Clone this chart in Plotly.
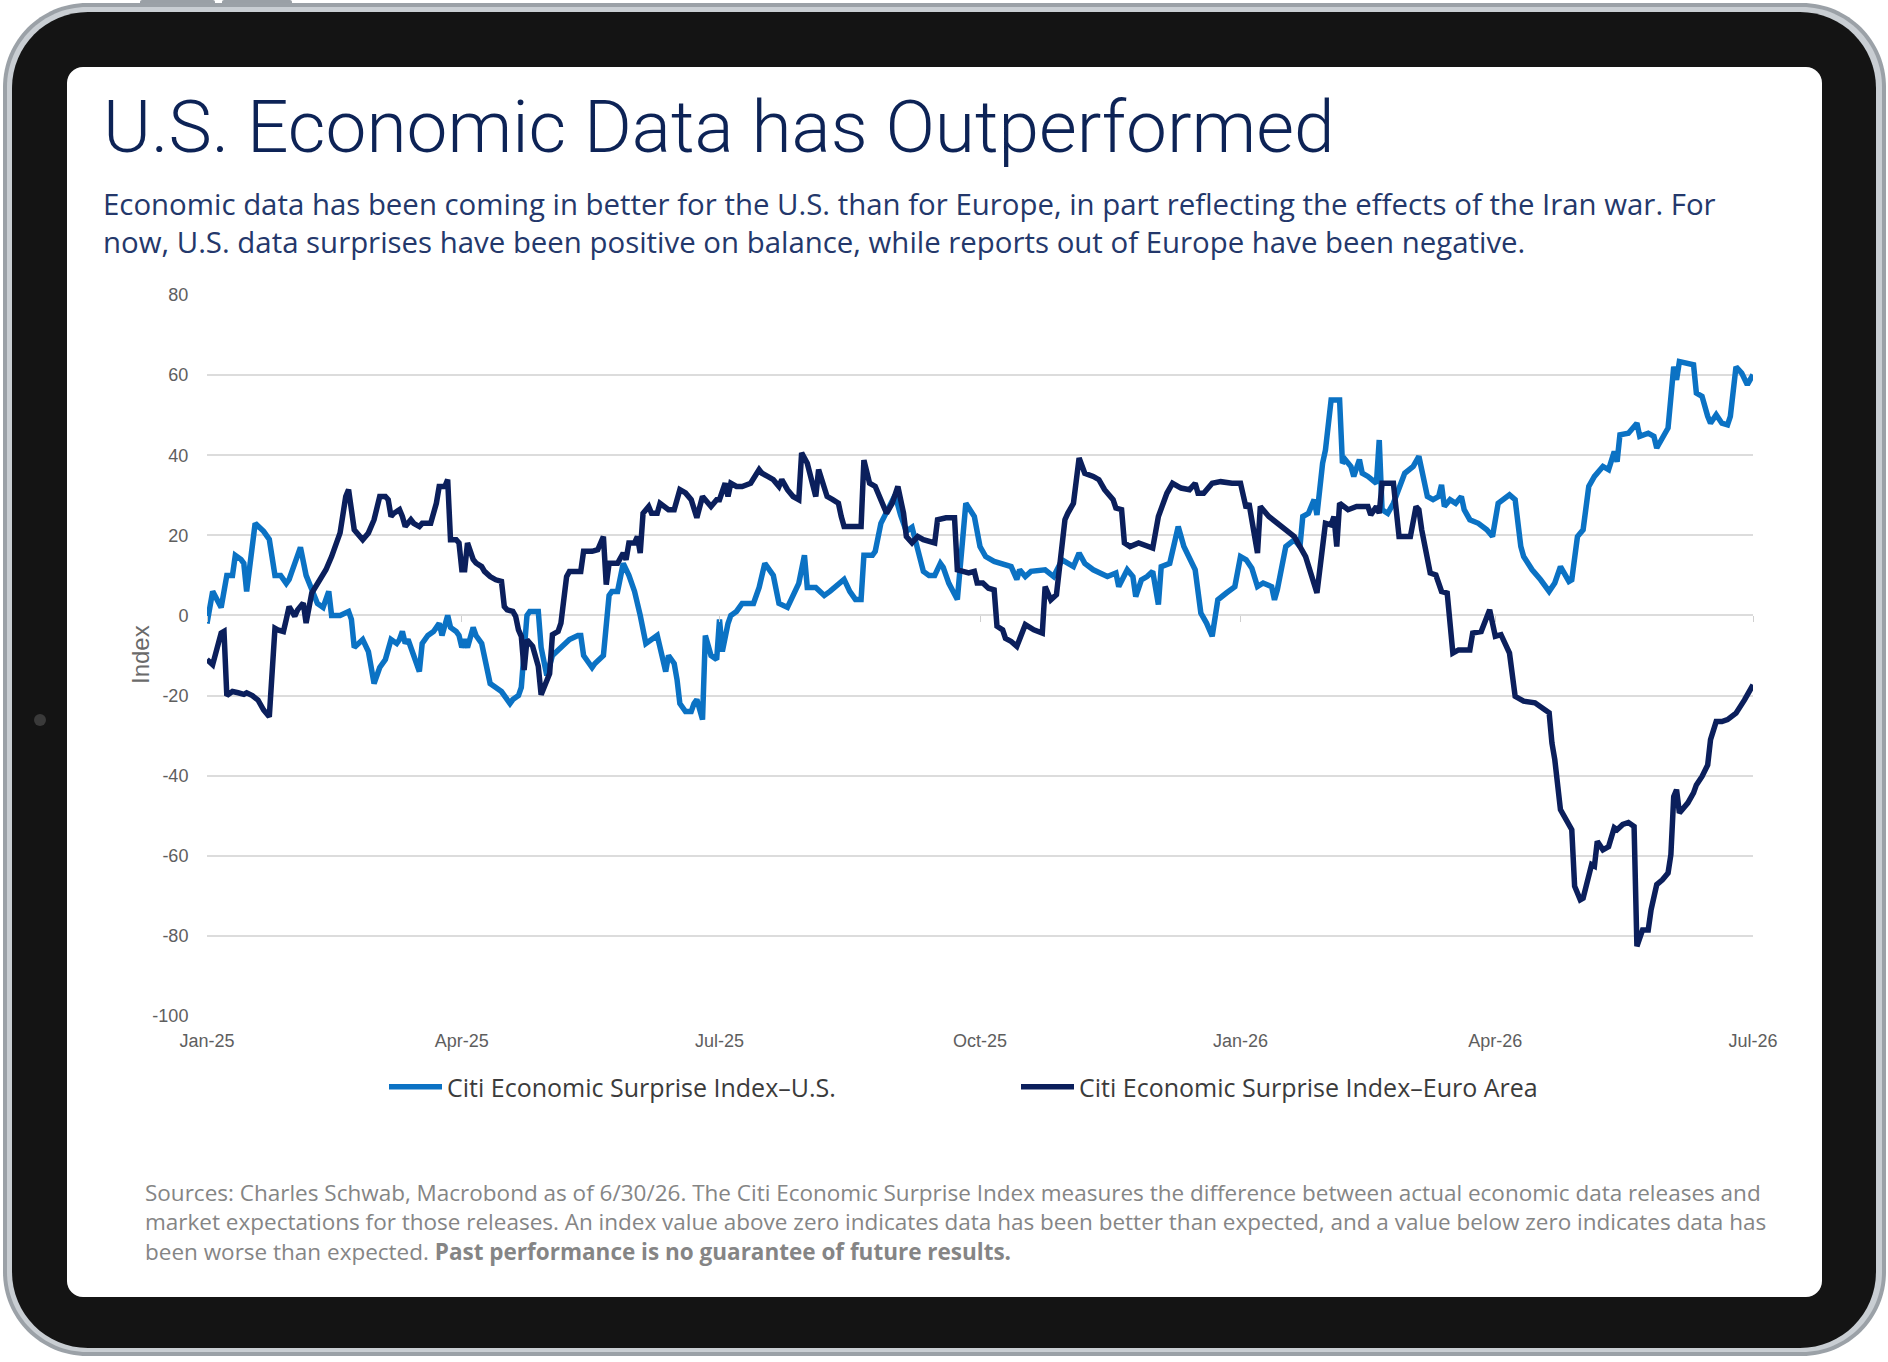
import plotly.graph_objects as go

# ---------------- DATA ----------------
us_dates = [
    "2025-01-01", "2025-01-03", "2025-01-06", "2025-01-08", "2025-01-10", "2025-01-11", "2025-01-13", "2025-01-14",
    "2025-01-15", "2025-01-18", "2025-01-21", "2025-01-23", "2025-01-25", "2025-01-27", "2025-01-29", "2025-01-30",
    "2025-02-01", "2025-02-03", "2025-02-05", "2025-02-06", "2025-02-08", "2025-02-09", "2025-02-11", "2025-02-13",
    "2025-02-14", "2025-02-17", "2025-02-20", "2025-02-21", "2025-02-22", "2025-02-25", "2025-02-27", "2025-03-01",
    "2025-03-03", "2025-03-05", "2025-03-07", "2025-03-09", "2025-03-10", "2025-03-11", "2025-03-12", "2025-03-13",
    "2025-03-15", "2025-03-17", "2025-03-18", "2025-03-20", "2025-03-22", "2025-03-24", "2025-03-25", "2025-03-27",
    "2025-03-28", "2025-03-30", "2025-03-31", "2025-04-01", "2025-04-02", "2025-04-03", "2025-04-05", "2025-04-06",
    "2025-04-08", "2025-04-09", "2025-04-11", "2025-04-13", "2025-04-15", "2025-04-18", "2025-04-19", "2025-04-21",
    "2025-04-22", "2025-04-24", "2025-04-25", "2025-04-28", "2025-04-29", "2025-05-01", "2025-05-03", "2025-05-06",
    "2025-05-09", "2025-05-12", "2025-05-13", "2025-05-14", "2025-05-17", "2025-05-18", "2025-05-21", "2025-05-23",
    "2025-05-24", "2025-05-26", "2025-05-28", "2025-05-30", "2025-06-01", "2025-06-03", "2025-06-05", "2025-06-07",
    "2025-06-09", "2025-06-10", "2025-06-12", "2025-06-13", "2025-06-15", "2025-06-16", "2025-06-17", "2025-06-19",
    "2025-06-21", "2025-06-22", "2025-06-23", "2025-06-25", "2025-06-26", "2025-06-28", "2025-06-30", "2025-07-01",
    "2025-07-02", "2025-07-04", "2025-07-05", "2025-07-07", "2025-07-09", "2025-07-11", "2025-07-13", "2025-07-15",
    "2025-07-17", "2025-07-20", "2025-07-22", "2025-07-25", "2025-07-27", "2025-07-29", "2025-07-31", "2025-08-01",
    "2025-08-04", "2025-08-07", "2025-08-09", "2025-08-12", "2025-08-14", "2025-08-16", "2025-08-18", "2025-08-20",
    "2025-08-21", "2025-08-24", "2025-08-25", "2025-08-27", "2025-08-30", "2025-09-01", "2025-09-03", "2025-09-05",
    "2025-09-07", "2025-09-09", "2025-09-11", "2025-09-13", "2025-09-15", "2025-09-17", "2025-09-18", "2025-09-20",
    "2025-09-23", "2025-09-26", "2025-09-29", "2025-10-01", "2025-10-03", "2025-10-06", "2025-10-09", "2025-10-12",
    "2025-10-14", "2025-10-15", "2025-10-17", "2025-10-19", "2025-10-24", "2025-10-27", "2025-10-30", "2025-11-01",
    "2025-11-03", "2025-11-05", "2025-11-07", "2025-11-10", "2025-11-13", "2025-11-15", "2025-11-18", "2025-11-19",
    "2025-11-22", "2025-11-24", "2025-11-25", "2025-11-27", "2025-11-29", "2025-12-01", "2025-12-03", "2025-12-04",
    "2025-12-07", "2025-12-10", "2025-12-12", "2025-12-14", "2025-12-16", "2025-12-18", "2025-12-20", "2025-12-22",
    "2025-12-24", "2025-12-27", "2025-12-30", "2026-01-01", "2026-01-03", "2026-01-05", "2026-01-07", "2026-01-09",
    "2026-01-12", "2026-01-13", "2026-01-14", "2026-01-17", "2026-01-20", "2026-01-22", "2026-01-23", "2026-01-25",
    "2026-01-27", "2026-01-28", "2026-01-30", "2026-01-31", "2026-02-02", "2026-02-05", "2026-02-06", "2026-02-07",
    "2026-02-09", "2026-02-10", "2026-02-12", "2026-02-13", "2026-02-15", "2026-02-18", "2026-02-19", "2026-02-20",
    "2026-02-22", "2026-02-24", "2026-02-26", "2026-02-28", "2026-03-03", "2026-03-05", "2026-03-06", "2026-03-08",
    "2026-03-10", "2026-03-12", "2026-03-13", "2026-03-14", "2026-03-16", "2026-03-18", "2026-03-20", "2026-03-21",
    "2026-03-23", "2026-03-26", "2026-03-29", "2026-03-31", "2026-04-02", "2026-04-04", "2026-04-06", "2026-04-08",
    "2026-04-10", "2026-04-11", "2026-04-14", "2026-04-17", "2026-04-20", "2026-04-22", "2026-04-24", "2026-04-27",
    "2026-04-28", "2026-04-30", "2026-05-02", "2026-05-04", "2026-05-06", "2026-05-09", "2026-05-11", "2026-05-13",
    "2026-05-14", "2026-05-15", "2026-05-18", "2026-05-21", "2026-05-22", "2026-05-25", "2026-05-27", "2026-05-28",
    "2026-05-31", "2026-06-01", "2026-06-03", "2026-06-04", "2026-06-05", "2026-06-09", "2026-06-10", "2026-06-11",
    "2026-06-13", "2026-06-15", "2026-06-16", "2026-06-18", "2026-06-20", "2026-06-22", "2026-06-23", "2026-06-25",
    "2026-06-27", "2026-06-29", "2026-07-01",
]
us_values = [
    -2, 6, 2, 10, 10, 15, 14, 13,
    6, 23, 21, 19, 10, 10, 8, 9,
    13, 17, 10, 8, 4, 3, 2, 6,
    0, 0, 1, -1, -8, -6, -9, -17,
    -13, -11, -6, -7, -6, -4, -7, -6,
    -10, -14, -7, -5, -4, -2, -5, 0,
    -3, -4, -5, -8, -6, -8, -3, -5,
    -7, -10, -17, -18, -19, -22, -21, -20,
    -18, 0, 1, 1, -8, -15, -10, -8,
    -6, -5, -5, -10, -13, -12, -10, 5,
    6, 6, 13, 10, 6, 0, -7, -6,
    -5, -8, -14, -10, -12, -16, -22, -24,
    -24, -22, -21, -26, -5, -10, -11, -1,
    -9, -2, 0, 1, 3, 3, 3, 7,
    13, 10, 3, 2, 5, 8, 15, 7,
    7, 5, 6, 8, 9, 6, 4, 4,
    15, 15, 16, 23, 27, 30, 25, 21,
    22, 16, 11, 10, 10, 13, 12, 8,
    4, 28, 24.7, 17.2, 14.7, 13.5, 13, 12.2,
    9, 11.4, 9.7, 11, 11.4, 9.7, 13.9, 13,
    12.2, 15.6, 13, 11.4, 10.6, 9.7, 10.6, 7.2,
    11.4, 9.7, 4.7, 8.9, 9.7, 11, 2.7, 12.2,
    13, 22.2, 17.2, 13.9, 11.4, 0.6, -1.9, -5.2,
    3.9, 5.6, 7.2, 14.7, 13.9, 11.8, 7.2, 8.1,
    7.2, 3.9, 6.4, 17.2, 18.9, 17.2, 24.7, 25.5,
    28.9, 25.1, 38, 41.3, 53.8, 53.8, 38, 38.9,
    37.2, 34.7, 38.9, 35.5, 34.7, 33, 43.8, 26.4,
    25.5, 28, 31.4, 35.5, 37.2, 39.7, 36.4, 29.7,
    28.9, 29.7, 32.6, 27.2, 28.9, 28, 29.7, 26.4,
    23.9, 23, 21.4, 19.7, 28, 28.9, 30.1, 28.9,
    17.2, 14.7, 11.4, 8.9, 6, 8.1, 12.2, 8.5,
    8.9, 19.7, 21.4, 32.2, 34.7, 37.2, 36.4, 40.9,
    38.4, 45.1, 45.5, 48, 44.7, 45.5, 44.7, 41.8,
    45.5, 46.8, 62.1, 58.8, 63.4, 63, 62.6, 55.5,
    54.7, 49.7, 48, 50.1, 48, 47.6, 49.7, 62.1,
    60.5, 57.6, 60.1,
]

ea_dates = [
    "2025-01-01", "2025-01-03", "2025-01-06", "2025-01-07", "2025-01-08", "2025-01-10", "2025-01-12", "2025-01-14",
    "2025-01-15", "2025-01-17", "2025-01-19", "2025-01-21", "2025-01-23", "2025-01-25", "2025-01-26", "2025-01-28",
    "2025-01-29", "2025-01-30", "2025-02-01", "2025-02-02", "2025-02-04", "2025-02-05", "2025-02-07", "2025-02-09",
    "2025-02-11", "2025-02-12", "2025-02-14", "2025-02-16", "2025-02-17", "2025-02-19", "2025-02-20", "2025-02-22",
    "2025-02-24", "2025-02-25", "2025-02-27", "2025-03-01", "2025-03-03", "2025-03-05", "2025-03-06", "2025-03-07",
    "2025-03-08", "2025-03-10", "2025-03-11", "2025-03-12", "2025-03-14", "2025-03-15", "2025-03-17", "2025-03-18",
    "2025-03-21", "2025-03-23", "2025-03-24", "2025-03-26", "2025-03-27", "2025-03-28", "2025-03-30", "2025-03-31",
    "2025-04-01", "2025-04-02", "2025-04-03", "2025-04-05", "2025-04-06", "2025-04-08", "2025-04-09", "2025-04-11",
    "2025-04-13", "2025-04-15", "2025-04-16", "2025-04-17", "2025-04-19", "2025-04-20", "2025-04-21", "2025-04-22",
    "2025-04-23", "2025-04-24", "2025-04-26", "2025-04-27", "2025-04-28", "2025-04-29", "2025-05-01", "2025-05-02",
    "2025-05-03", "2025-05-05", "2025-05-06", "2025-05-07", "2025-05-08", "2025-05-09", "2025-05-13", "2025-05-14",
    "2025-05-17", "2025-05-19", "2025-05-21", "2025-05-22", "2025-05-23", "2025-05-26", "2025-05-28", "2025-05-29",
    "2025-05-30", "2025-06-01", "2025-06-02", "2025-06-03", "2025-06-04", "2025-06-06", "2025-06-07", "2025-06-09",
    "2025-06-10", "2025-06-13", "2025-06-15", "2025-06-17", "2025-06-19", "2025-06-21", "2025-06-23", "2025-06-25",
    "2025-06-26", "2025-06-28", "2025-06-30", "2025-07-01", "2025-07-03", "2025-07-04", "2025-07-05", "2025-07-07",
    "2025-07-09", "2025-07-12", "2025-07-15", "2025-07-16", "2025-07-18", "2025-07-20", "2025-07-22", "2025-07-23",
    "2025-07-25", "2025-07-27", "2025-07-29", "2025-07-30", "2025-08-01", "2025-08-04", "2025-08-05", "2025-08-08",
    "2025-08-10", "2025-08-12", "2025-08-13", "2025-08-14", "2025-08-17", "2025-08-20", "2025-08-21", "2025-08-23",
    "2025-08-25", "2025-08-27", "2025-08-29", "2025-08-31", "2025-09-02", "2025-09-04", "2025-09-05", "2025-09-07",
    "2025-09-09", "2025-09-11", "2025-09-14", "2025-09-15", "2025-09-16", "2025-09-19", "2025-09-22", "2025-09-23",
    "2025-09-27", "2025-09-29", "2025-09-30", "2025-10-02", "2025-10-04", "2025-10-06", "2025-10-07", "2025-10-09",
    "2025-10-10", "2025-10-12", "2025-10-14", "2025-10-15", "2025-10-17", "2025-10-20", "2025-10-23", "2025-10-24",
    "2025-10-26", "2025-10-28", "2025-10-31", "2025-11-01", "2025-11-03", "2025-11-05", "2025-11-07", "2025-11-10",
    "2025-11-12", "2025-11-14", "2025-11-17", "2025-11-18", "2025-11-20", "2025-11-21", "2025-11-23", "2025-11-26",
    "2025-11-28", "2025-12-01", "2025-12-03", "2025-12-06", "2025-12-08", "2025-12-11", "2025-12-14", "2025-12-16",
    "2025-12-17", "2025-12-19", "2025-12-22", "2025-12-25", "2025-12-29", "2026-01-01", "2026-01-03", "2026-01-04",
    "2026-01-07", "2026-01-08", "2026-01-11", "2026-01-14", "2026-01-17", "2026-01-20", "2026-01-22", "2026-01-24",
    "2026-01-28", "2026-01-31", "2026-02-02", "2026-02-03", "2026-02-04", "2026-02-05", "2026-02-08", "2026-02-11",
    "2026-02-15", "2026-02-16", "2026-02-18", "2026-02-19", "2026-02-20", "2026-02-24", "2026-02-26", "2026-03-02",
    "2026-03-04", "2026-03-05", "2026-03-06", "2026-03-09", "2026-03-11", "2026-03-13", "2026-03-15", "2026-03-17",
    "2026-03-19", "2026-03-23", "2026-03-24", "2026-03-27", "2026-03-30", "2026-04-01", "2026-04-03", "2026-04-06",
    "2026-04-08", "2026-04-11", "2026-04-15", "2026-04-18", "2026-04-20", "2026-04-21", "2026-04-22", "2026-04-24",
    "2026-04-26", "2026-04-28", "2026-04-29", "2026-05-01", "2026-05-02", "2026-05-04", "2026-05-05", "2026-05-06",
    "2026-05-07", "2026-05-09", "2026-05-11", "2026-05-13", "2026-05-14", "2026-05-16", "2026-05-18", "2026-05-20",
    "2026-05-21", "2026-05-23", "2026-05-25", "2026-05-26", "2026-05-28", "2026-05-30", "2026-06-01", "2026-06-02",
    "2026-06-03", "2026-06-04", "2026-06-05", "2026-06-08", "2026-06-10", "2026-06-11", "2026-06-13", "2026-06-15",
    "2026-06-16", "2026-06-18", "2026-06-20", "2026-06-22", "2026-06-25", "2026-06-28", "2026-07-01",
]
ea_values = [
    -11, -12.3, -4.4, -4, -20, -19, -19.3, -19.7,
    -19.3, -20, -21.1, -23.6, -25.3, -3.2, -3.6, -4,
    -1, 2.2, -0.2, 1.4, 3.1, -1.9, 5.6, 8.1,
    10.6, 11.4, 14.7, 18.1, 20.6, 29.7, 31.4, 21.4,
    19.7, 18.9, 20.6, 23.9, 29.7, 29.7, 28.9, 24.7,
    25.5, 26.4, 24.7, 22.2, 23.9, 23, 22.2, 23,
    23, 28, 32.2, 32.2, 33.9, 18.9, 18.9, 18.1,
    11.4, 11.4, 18.1, 14, 13.1, 12.2, 11, 9.7,
    8.9, 8.5, 2.2, 1.4, 1, -0.2, -3.6, -5.2,
    -13.6, -6.1, -7.7, -10.2, -12.7, -19.8, -16.1, -14.5,
    -4.8, -4, -1.9, 4.7, 9.7, 11, 11, 16,
    16, 16.4, 19.7, 7.7, 13, 13, 15.6, 13.9,
    18.1, 18.1, 19.7, 15.6, 25.5, 27.2, 25.5, 25.5,
    28, 26.4, 26.4, 31.4, 30.6, 28.9, 24.4, 29.7,
    28.9, 27.2, 28.9, 28.9, 33, 29.7, 33, 32.2,
    32.2, 33, 36.4, 35.5, 34.7, 33.9, 32.2, 33.9,
    31.4, 29.7, 28.9, 40.6, 38, 29.7, 36.4, 29.7,
    28.9, 28, 24.7, 22.2, 22.2, 22.2, 38.8, 33,
    32.2, 28.9, 25.5, 28, 32.2, 25.5, 19.7, 18.1,
    19.7, 18.9, 18.1, 18.1, 23.9, 24.4, 24.4, 11.4,
    10.6, 11, 8.1, 8.1, 6.8, 6.4, -2.7, -3.6,
    -5.7, -6.5, -7.7, -6.1, -2.3, -3.6, -4.4, 7.2,
    3.9, 5.2, 23.9, 25.5, 28, 39.3, 35.5, 34.7,
    33.9, 31.4, 28.9, 26.8, 26.4, 18.1, 17.2, 18.1,
    17.6, 16.8, 24.7, 30.5, 33, 31.8, 31.4, 33,
    30.5, 30.5, 33, 33.4, 33, 33, 26.8, 28,
    15.6, 27.2, 24.7, 23, 21.4, 19.7, 17.2, 14.7,
    5.6, 23, 22.6, 24.7, 17.2, 28, 26.4, 27.2,
    27.2, 25.1, 27.2, 25.5, 33, 33, 19.7, 19.7,
    27.2, 26.4, 21.4, 10.6, 10.1, 6, 5.6, -9.4,
    -8.6, -8.6, -4.4, -4, 1.4, -5.2, -4.8, -9.4,
    -20.2, -21.4, -21.8, -23.1, -24.3, -31.9, -36, -48.5,
    -51, -53.5, -67.6, -71, -70.6, -64.3, -62.2, -62.6,
    -56.4, -58.5, -57.7, -53, -53.5, -52.2, -51.7, -52.7,
    -82.6, -78.5, -78.5, -73.5, -67.2, -66, -64.3, -59.7,
    -45.2, -43.5, -49.3, -46.8, -44.3, -42.3, -40.2, -37.3,
    -31, -26.5, -26.5, -26, -24.4, -21.1, -17.3,
]

y_tick_values = [-100, -80, -60, -40, -20, 0, 20, 40, 60, 80]
y_tick_labels = ["-100", "-80", "-60", "-40", "-20", "0", "20", "40", "60", "80"]
x_tick_dates = ["2025-01-01", "2025-04-01", "2025-07-01", "2025-10-01",
                "2026-01-01", "2026-04-01", "2026-07-01"]
x_tick_labels = ["Jan-25", "Apr-25", "Jul-25", "Oct-25", "Jan-26", "Apr-26", "Jul-26"]
y_range = [-100, 80]

series_names = ["Citi Economic Surprise Index\u2013U.S.",
                "Citi Economic Surprise Index\u2013Euro Area"]

title_text = "U.S. Economic Data has Outperformed"
subtitle_text = (
    "Economic data has been coming in better for the U.S. than for Europe, in part reflecting the effects of the Iran war. For<br>"
    "now, U.S. data surprises have been positive on balance, while reports out of Europe have been negative."
)
footnote_text = (
    "Sources: Charles Schwab, Macrobond as of 6/30/26. The Citi Economic Surprise Index measures the difference between actual economic data releases and<br>"
    "market expectations for those releases. An index value above zero indicates data has been better than expected, and a value below zero indicates data has<br>"
    "been worse than expected. <b>Past performance is no guarantee of future results.</b>"
)

# ---------------- LAYOUT GEOMETRY ----------------
W, H = 1888, 1362
ML, MR, MT, MB = 207, 135, 295, 346
PW = W - ML - MR
PH = H - MT - MB

US_COLOR = "#0b72c4"
EA_COLOR = "#0b1f5c"
GRID = "#dcdcdc"


def px(x):
    return (x - ML) / PW


def py(y):
    return (H - MB - y) / PH


def rrect(x0, y0, x1, y1, r):
    k = 0.5523 * r
    P = lambda x, y: f"{px(x):.5f},{py(y):.5f}"
    return (
        f"M {P(x0 + r, y0)} L {P(x1 - r, y0)} "
        f"C {P(x1 - r + k, y0)} {P(x1, y0 + r - k)} {P(x1, y0 + r)} "
        f"L {P(x1, y1 - r)} "
        f"C {P(x1, y1 - r + k)} {P(x1 - r + k, y1)} {P(x1 - r, y1)} "
        f"L {P(x0 + r, y1)} "
        f"C {P(x0 + r - k, y1)} {P(x0, y1 - r + k)} {P(x0, y1 - r)} "
        f"L {P(x0, y0 + r)} "
        f"C {P(x0, y0 + r - k)} {P(x0 + r - k, y0)} {P(x0 + r, y0)} Z"
    )


fig = go.Figure()

fig.add_trace(go.Scatter(
    x=us_dates, y=us_values, mode="lines", name=series_names[0],
    line=dict(color=US_COLOR, width=5.5), legend="legend",
))
fig.add_trace(go.Scatter(
    x=ea_dates, y=ea_values, mode="lines", name=series_names[1],
    line=dict(color=EA_COLOR, width=5.5), legend="legend2",
))
# carrier trace for the small tick marks on the zero line
fig.add_trace(go.Scatter(
    x=[x_tick_dates[0], x_tick_dates[-1]], y=[None, None], xaxis="x2",
    mode="lines", showlegend=False, hoverinfo="skip",
))

shapes = [
    # volume buttons
    dict(type="path", path=rrect(140, 0, 215, 7, 2), fillcolor="#9aa0a6", line_width=0, layer="below", xref="paper", yref="paper"),
    dict(type="path", path=rrect(222, 0, 292, 7, 2), fillcolor="#9aa0a6", line_width=0, layer="below", xref="paper", yref="paper"),
    # tablet body
    dict(type="path", path=rrect(3, 3, 1886, 1356, 84), fillcolor="#9ba1a7", line_width=0, layer="below", xref="paper", yref="paper"),
    dict(type="path", path=rrect(7, 7, 1882, 1352, 80), fillcolor="#c9ced3", line_width=0, layer="below", xref="paper", yref="paper"),
    dict(type="path", path=rrect(12, 12, 1876, 1348, 76), fillcolor="#141414", line_width=0, layer="below", xref="paper", yref="paper"),
    # screen
    dict(type="path", path=rrect(67, 67, 1822, 1297, 16), fillcolor="#ffffff", line_width=0, layer="below", xref="paper", yref="paper"),
    # camera
    dict(type="circle", xref="paper", yref="paper", x0=px(34), x1=px(46), y0=py(726), y1=py(714),
         fillcolor="#3a3a3a", line_width=0, layer="below"),
]

TITLE_FONT = "Roboto, 'Noto Sans', sans-serif"
BODY_FONT = "'Open Sans', 'Noto Sans', sans-serif"
annotations = [
    dict(text=title_text, x=px(101), y=py(127), xref="paper", yref="paper", xanchor="left", yanchor="middle",
         showarrow=False, font=dict(family=TITLE_FONT, size=73, color="#0d2356", weight=300)),
    dict(text=subtitle_text, x=px(101), y=py(223), xref="paper", yref="paper", xanchor="left", yanchor="middle",
         align="left", showarrow=False, font=dict(family=BODY_FONT, size=29.4, color="#24386b")),
    dict(text="Index", x=px(140), y=py(655), xref="paper", yref="paper", xanchor="center", yanchor="middle",
         textangle=-90, showarrow=False, font=dict(family="Liberation Sans, Arial, sans-serif", size=24, color="#6a6a6a")),
    dict(text=footnote_text, x=px(143), y=py(1222), xref="paper", yref="paper", xanchor="left", yanchor="middle",
         align="left", showarrow=False, font=dict(family=BODY_FONT, size=22.5, color="#858585")),
]

zero_pos = (0 - y_range[0]) / (y_range[1] - y_range[0])

legend_common = dict(orientation="h", yanchor="middle", xanchor="left", bgcolor="rgba(0,0,0,0)",
                     borderwidth=0, itemwidth=53,
                     font=dict(family=BODY_FONT, size=25, color="#3b3b3b"))

fig.update_layout(
    width=W, height=H,
    margin=dict(l=ML, r=MR, t=MT, b=MB, pad=0),
    paper_bgcolor="#ffffff",
    plot_bgcolor="rgba(0,0,0,0)",
    showlegend=True,
    legend=dict(x=px(384), y=py(1087), **legend_common),
    legend2=dict(x=px(1016), y=py(1087), **legend_common),
    xaxis=dict(
        type="date", range=[x_tick_dates[0], x_tick_dates[-1]],
        tickvals=x_tick_dates, ticktext=x_tick_labels,
        showgrid=False, zeroline=False, showline=False,
        ticks="outside", ticklen=8, tickcolor="rgba(0,0,0,0)",
        tickfont=dict(family="Liberation Sans, Arial, sans-serif", size=18, color="#5e5e5e"),
    ),
    xaxis2=dict(
        type="date", range=[x_tick_dates[0], x_tick_dates[-1]], overlaying="x",
        anchor="free", position=zero_pos, side="bottom",
        tickvals=x_tick_dates, showticklabels=False,
        showgrid=False, zeroline=False, showline=False,
        ticks="outside", ticklen=6, tickwidth=1, tickcolor="#d0d0d0",
    ),
    yaxis=dict(
        range=y_range, tickvals=y_tick_values, ticktext=y_tick_labels,
        showgrid=True, gridcolor=GRID, gridwidth=1.6,
        zeroline=False, showline=False,
        ticks="outside", ticklen=14, tickcolor="rgba(0,0,0,0)",
        tickfont=dict(family="Liberation Sans, Arial, sans-serif", size=18, color="#5e5e5e"),
    ),
    shapes=shapes,
    annotations=annotations,
)

fig.write_html("out.html", include_plotlyjs=True, config={"displayModeBar": False})
